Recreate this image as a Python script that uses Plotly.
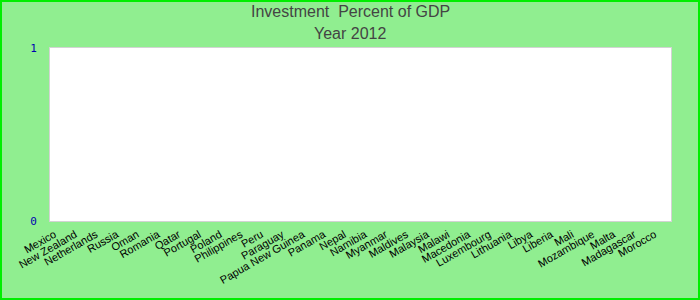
import plotly.graph_objects as go

countries = ["Mexico", "New Zealand", "Netherlands", "Russia", "Oman", "Romania", "Qatar",
             "Portugal", "Poland", "Philippines", "Peru", "Paraguay", "Papua New Guinea",
             "Panama", "Nepal", "Namibia", "Myanmar", "Maldives", "Malaysia", "Malawi",
             "Macedonia", "Luxembourg", "Lithuania", "Libya", "Liberia", "Mali",
             "Mozambique", "Malta", "Madagascar", "Morocco"]
investment = [None] * len(countries)  # no values shown for 2012
y_ticks = [0, 1]
title_lines = ["Investment  Percent of GDP", "Year 2012"]

W, H = 700, 300
ml, mr, mt, mb = 50, 29, 48, 79
pw, ph = W - ml - mr, H - mt - mb

fig = go.Figure(go.Bar(x=countries, y=investment, marker_color="#4472c4"))

title_font = dict(family="Liberation Sans, Arial, sans-serif", size=16, color="#444444")
annotations = []
for line, yc in zip(title_lines, [12, 33]):
    annotations.append(dict(text=line.replace("  ", "&nbsp; "), xref="paper", yref="paper",
                            x=0.5 - (ml - mr) / 2 / pw, y=1 + (mt - yc) / ph,
                            xanchor="center", yanchor="middle", showarrow=False,
                            font=title_font))

fig.update_layout(
    width=W, height=H,
    margin=dict(l=ml, r=mr, t=mt, b=mb, autoexpand=False),
    paper_bgcolor="#90ee90",
    plot_bgcolor="white",
    showlegend=False,
    annotations=annotations,
    xaxis=dict(type="category", tickangle=-30, showgrid=False, showline=True, mirror=True,
               linecolor="#d3d3d3", linewidth=1, ticks="", ticklabelshift=-6,
               ticklabelstandoff=2,
               tickfont=dict(family="Liberation Sans, Arial", size=11, color="black")),
    yaxis=dict(range=[0, 1], tickvals=y_ticks, showgrid=False, zeroline=False, showline=True,
               mirror=True, linecolor="#d3d3d3", linewidth=1, ticks="", ticklabelstandoff=10,
               tickfont=dict(family="DejaVu Sans Mono, monospace", size=11, color="#0000b0")),
    shapes=[dict(type="rect", xref="paper", yref="paper",
                 x0=-(ml - 1) / pw, x1=1 + (mr - 1) / pw,
                 y0=-(mb - 1) / ph, y1=1 + (mt - 1) / ph,
                 line=dict(color="#00ee00", width=2), layer="above")],
)

fig.write_html("out.html")
